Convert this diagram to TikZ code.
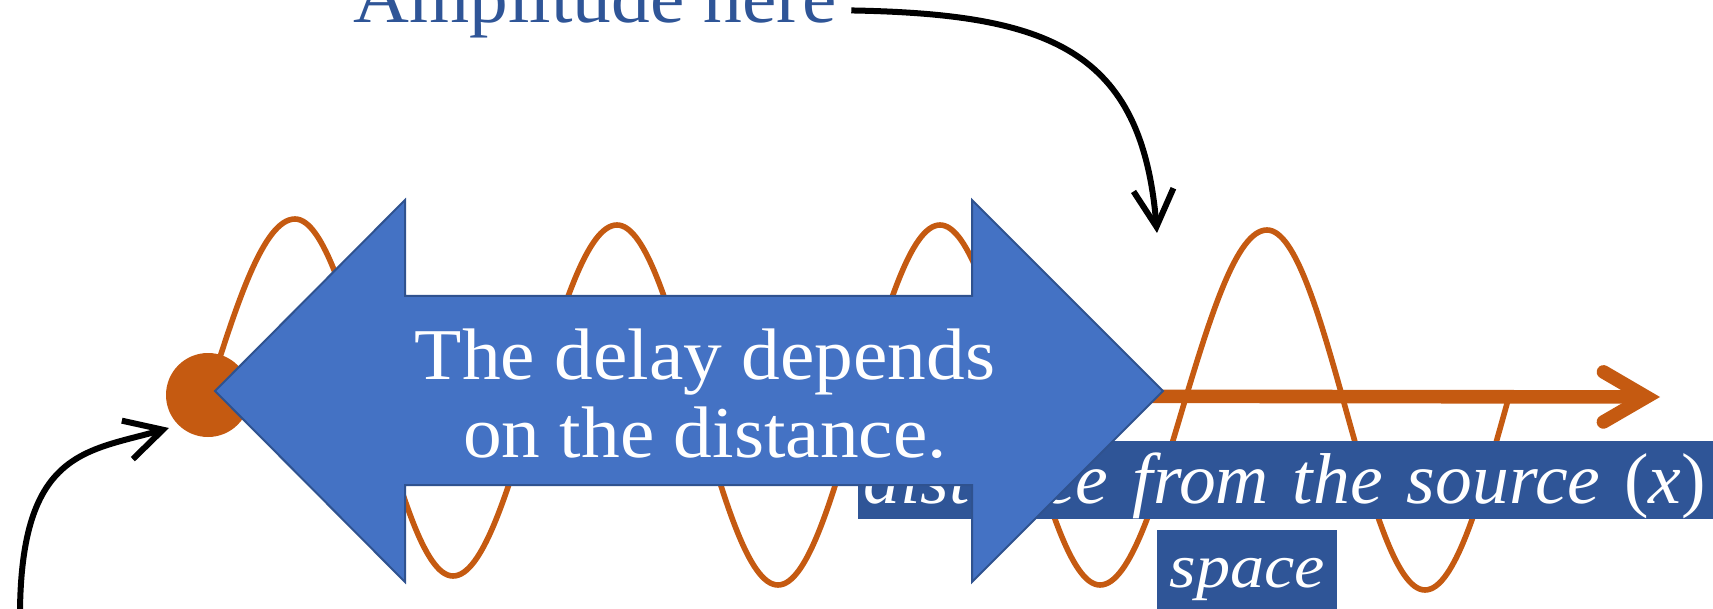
\documentclass[tikz,border=0pt]{standalone}
\usepackage{fontspec}
\usetikzlibrary{arrows.meta}
\newfontfamily\serifA[FakeStretch=1.06]{Liberation Serif}
\newfontfamily\serifB[FakeStretch=1.022]{Liberation Serif}
\newfontfamily\serifC[FakeStretch=1.10]{Liberation Serif}
\definecolor{wavec}{HTML}{C55A11}
\definecolor{arrowfill}{HTML}{4472C4}
\definecolor{arrowline}{HTML}{2F528F}
\definecolor{labelblue}{HTML}{2F5597}
\begin{document}
\begin{tikzpicture}[x=0.5pt,y=-0.5pt,
  wave/.style={draw=wavec, line width=2.8pt, line join=round},
  axis/.style={draw=wavec, line width=6.8pt, -{Straight Barb[length=21.5pt,width=25pt,line cap=round,line join=miter]}},
  callout/.style={draw=black, line width=3pt, -{Straight Barb[length=18.5pt,width=20pt]}},
  lab/.style={fill=labelblue, text=white, inner ysep=0pt},
  bigarrow/.style={fill=arrowfill, draw=arrowline, line width=1pt, line join=miter},
  bigtext/.style={font=\fontsize{36.5pt}{38.75pt}\serifA},
]
\useasboundingbox (0,0) rectangle (1713,609);

% source dot and wave
\node (dot) [circle, fill=wavec, minimum size=42pt, inner sep=0pt] at (208,395) {};
\draw[wave] (dot.center) sin (295,219) cos (374,397) sin (453,576) cos (535,400)
  sin (617,225) cos (697,405) sin (778,585) cos (859,405) sin (940,225) cos (1020,405)
  sin (1100,585) cos (1183,407) sin (1267,230) cos (1346,410) sin (1425,590) cos (1508,400);

% axis arrow
\coordinate (axtip) at (1660,397);
\draw[axis] (dot.center) -- (axtip);

% labels
\node (dist) [lab, anchor=north west, inner xsep=2.5pt, text width=428.5pt, align=left,
  text height=31pt, text depth=8pt, font=\fontsize{36pt}{40pt}\serifB\itshape]
  at (858,441) {distance from the source {\upshape(}x{\upshape)}};
\node (space) [lab, anchor=north west, inner xsep=0pt, text width=90pt, align=center,
  text height=28.5pt, text depth=11pt, font=\fontsize{31pt}{35pt}\serifC\itshape]
  at (1157,530) {space};

% big double arrow
\path[bigarrow] (215,391) -- (405,200) -- (405,296) -- (972,296) -- (972,200) -- (1163,391)
  -- (972,582) -- (972,485) -- (405,485) -- (405,582) -- cycle;
\node (delay) [bigtext, anchor=base, align=center, text=white, inner sep=0pt] at (705,457)
  {The delay depends\\on the distance.};

% amplitude callout
\node (amp) [bigtext, anchor=base west, text=labelblue, inner xsep=7pt, inner ysep=0pt] at (339,23) {Amplitude here};
\coordinate (amptip) at (1157,233);
\draw[callout] ([yshift=-2.5pt]amp.east) .. controls (1050,14) and (1142,50) .. (amptip);

% lower-left callout
\coordinate (lowstart) at (20,625);
\coordinate (srcpt) at (169,428);
\draw[callout] (lowstart) .. controls (18,450) and (85,452) .. (srcpt);
\end{tikzpicture}
\end{document}
